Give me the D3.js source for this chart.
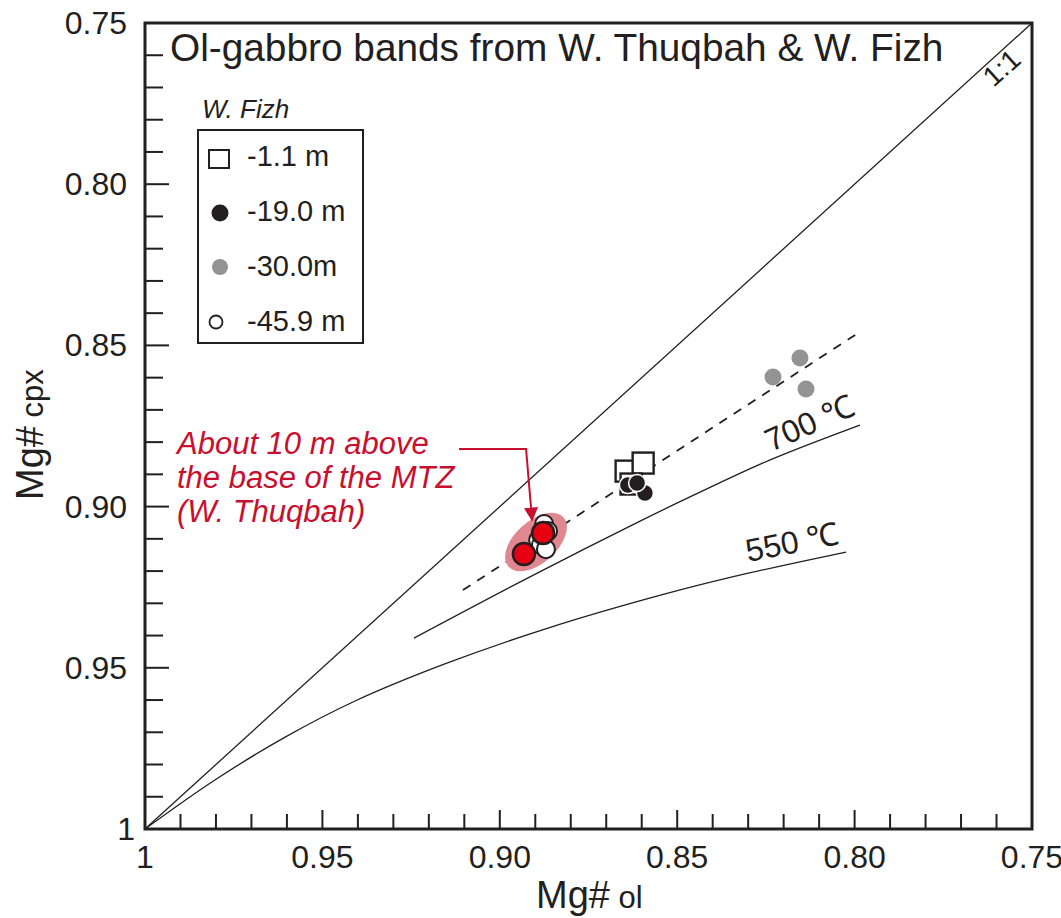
<!DOCTYPE html>
<meta charset="utf-8">
<script src="https://cdn.jsdelivr.net/npm/d3@7"></script>
<style>
  body { margin: 0; background: #fff; }
  text { font-family: "Liberation Sans", Arial, sans-serif; fill: #231f20; }
</style>
<svg width="1061" height="918"></svg>
<script>
// ticks
var majorTicks = [1, 0.95, 0.90, 0.85, 0.80, 0.75];
var xTickLabels = ["1", "0.95", "0.90", "0.85", "0.80", "0.75"];
var yTickLabels = ["1", "0.95", "0.90", "0.85", "0.80", "0.75"];
var minorTicks = d3.range(0, 26).map(function(i) { return +(0.75 + i * 0.01).toFixed(2); });

// reference lines (Mg# ol, Mg# cpx)
var oneToOne = [[1, 1], [0.75, 0.75]];
var trendDashed = [[0.9104, 0.9259], [0.7985, 0.8458]];
var curve700 = [[0.9242, 0.9408], [0.8915, 0.9218], [0.8599, 0.9042], [0.8464, 0.8970], [0.8238, 0.8855], [0.7985, 0.8747]];
var curve550 = [[1, 1], [0.9803, 0.9848], [0.9605, 0.9715], [0.9408, 0.9603], [0.9155, 0.9488],
  [0.8873, 0.9380], [0.8534, 0.9271], [0.8309, 0.9209], [0.8024, 0.9141]];

// W. Fizh samples
var fizh_1_1 = [[0.8644, 0.8890], [0.8596, 0.8865], [0.8630, 0.8930]];
var fizh_19_0 = [[0.8639, 0.8933], [0.8591, 0.8958], [0.8613, 0.8927]];
var fizh_30_0 = [[0.8230, 0.8598], [0.8154, 0.8539], [0.8137, 0.8635]];
var fizh_45_9 = [[0.8875, 0.9054], [0.8864, 0.9076], [0.8892, 0.9104], [0.8884, 0.9119], [0.8870, 0.9132]];
// W. Thuqbah (about 10 m above MTZ base)
var thuqbah = [[0.8932, 0.9147], [0.8878, 0.9082]];
var thuqbahZone = [0.8898, 0.9110];
var arrowPath = [[0.9115, 0.8821], [0.8926, 0.8821], [0.8909, 0.9042]];

var legendLabels = ["-1.1 m", "-19.0 m", "-30.0m", "-45.9 m"];
var noteLines = ["About 10 m above", "the base of the MTZ", "(W. Thuqbah)"];

var ink = "#231f20", red = "#e60012", noteRed = "#c8102e";

var svg = d3.select("svg");
var pLeft = 145, pRight = 1032, pTop = 23, pBottom = 829;

var x = d3.scaleLinear().domain([1, 0.75]).range([pLeft, pRight]);
var y = d3.scaleLinear().domain([0.75, 1]).range([pTop, pBottom]);

var line = d3.line().x(function(d) { return x(d[0]); }).y(function(d) { return y(d[1]); });

// curves
svg.append("path").attr("d", line(oneToOne)).attr("fill", "none").attr("stroke", ink).attr("stroke-width", 1.3);
line.curve(d3.curveCatmullRom.alpha(0.5));
svg.append("path").attr("d", line(curve550)).attr("fill", "none").attr("stroke", ink).attr("stroke-width", 1.3);
svg.append("path").attr("d", line(curve700)).attr("fill", "none").attr("stroke", ink).attr("stroke-width", 1.3);
line.curve(d3.curveLinear);
svg.append("path").attr("d", line(trendDashed)).attr("fill", "none").attr("stroke", ink)
  .attr("stroke-width", 1.8).attr("stroke-dasharray", "9,8");

// curve labels
svg.append("text").attr("transform", "translate(771,452) rotate(-24)").attr("font-size", 32).text("700 \u2103");
svg.append("text").attr("transform", "translate(748,562) rotate(-11)").attr("font-size", 32).text("550 \u2103");
svg.append("text").attr("transform", "translate(1008,75) rotate(-42)").attr("font-size", 28)
  .attr("text-anchor", "middle").text("1:1");

// Thuqbah zone
svg.append("ellipse")
  .attr("transform", "translate(" + x(thuqbahZone[0]) + "," + y(thuqbahZone[1]) + ") rotate(-42)")
  .attr("rx", 37).attr("ry", 21).attr("fill", "#e0878f");

// squares
svg.append("g").selectAll("rect").data(fizh_1_1).enter().append("rect")
  .attr("x", function(d) { return x(d[0]) - 10.5; })
  .attr("y", function(d) { return y(d[1]) - 10.5; })
  .attr("width", 21).attr("height", 21)
  .attr("fill", "#fff").attr("stroke", ink).attr("stroke-width", 2.4);

function dots(data, r, fill, stroke, sw) {
  svg.append("g").selectAll("circle").data(data).enter().append("circle")
    .attr("cx", function(d) { return x(d[0]); })
    .attr("cy", function(d) { return y(d[1]); })
    .attr("r", r).attr("fill", fill).attr("stroke", stroke).attr("stroke-width", sw);
}
dots(fizh_19_0, 8.5, ink, "#fff", 1.5);
dots(fizh_30_0, 8.5, "#939393", "none", 0);
dots(fizh_45_9, 9, "#fff", ink, 2);
dots(thuqbah, 11, red, ink, 2.5);

// annotation arrow + text
svg.append("defs").append("marker").attr("id", "ah")
  .attr("viewBox", "0 0 10 10").attr("refX", 9).attr("refY", 5)
  .attr("markerWidth", 7).attr("markerHeight", 7).attr("markerUnits", "strokeWidth")
  .attr("orient", "auto")
  .append("path").attr("d", "M0,0L10,5L0,10Z").attr("fill", noteRed);
svg.append("path").attr("d", line(arrowPath)).attr("fill", "none").attr("stroke", noteRed)
  .attr("stroke-width", 2).attr("marker-end", "url(#ah)");
svg.append("g").selectAll("text").data(noteLines).enter().append("text")
  .attr("x", 177).attr("y", function(d, i) { return 454 + i * 34; })
  .attr("font-size", 31).attr("font-style", "italic").style("fill", noteRed)
  .text(function(d) { return d; });

// axes frame
svg.append("rect").attr("x", pLeft).attr("y", pTop).attr("width", pRight - pLeft).attr("height", pBottom - pTop)
  .attr("fill", "none").attr("stroke", ink).attr("stroke-width", 3);

// ticks
var tg = svg.append("g").attr("stroke", ink).attr("stroke-width", 2);
minorTicks.forEach(function(v) {
  var major = majorTicks.indexOf(v) >= 0;
  if (v > 0.75 && v < 1) {
    tg.append("line").attr("x1", pLeft).attr("x2", pLeft + (major ? 24 : 18)).attr("y1", y(v)).attr("y2", y(v));
    tg.append("line").attr("y1", pBottom).attr("y2", pBottom - (major ? 19 : 15)).attr("x1", x(v)).attr("x2", x(v));
  }
});

// tick labels
svg.append("g").selectAll("text").data(majorTicks).enter().append("text")
  .attr("x", function(d) { return x(d); }).attr("y", 868)
  .attr("text-anchor", "middle").attr("font-size", 32)
  .text(function(d, i) { return xTickLabels[i]; });
svg.append("g").selectAll("text").data(majorTicks).enter().append("text")
  .attr("x", function(d) { return d === 1 ? 135 : 127; }).attr("y", function(d) { return y(d) + 11; })
  .attr("text-anchor", "end").attr("font-size", 32)
  .text(function(d, i) { return yTickLabels[i]; });

// axis titles
var xt = svg.append("text").attr("x", 536).attr("y", 908).attr("font-size", 38);
xt.append("tspan").text("Mg#");
xt.append("tspan").attr("font-size", 31).text(" ol");
var yt = svg.append("text").attr("transform", "translate(43,500) rotate(-90)").attr("font-size", 38);
yt.append("tspan").text("Mg#");
yt.append("tspan").attr("font-size", 31).text(" cpx");

// title
svg.append("text").attr("x", 170).attr("y", 61).attr("font-size", 38.8)
  .text("Ol-gabbro bands from W. Thuqbah & W. Fizh");

// legend
svg.append("text").attr("x", 202).attr("y", 118).attr("font-size", 26).attr("font-style", "italic").text("W. Fizh");
svg.append("rect").attr("x", 198).attr("y", 130).attr("width", 165).attr("height", 213)
  .attr("fill", "#fff").attr("stroke", ink).attr("stroke-width", 2);
var lg = svg.append("g");
lg.append("rect").attr("x", 209).attr("y", 150).attr("width", 20).attr("height", 18)
  .attr("fill", "#fff").attr("stroke", ink).attr("stroke-width", 2);
lg.append("circle").attr("cx", 220).attr("cy", 213).attr("r", 8.5).attr("fill", ink);
lg.append("circle").attr("cx", 220).attr("cy", 267).attr("r", 8).attr("fill", "#939393");
lg.append("circle").attr("cx", 216).attr("cy", 322).attr("r", 6.5).attr("fill", "#fff").attr("stroke", ink).attr("stroke-width", 1.8);
lg.selectAll("text").data(legendLabels).enter().append("text")
  .attr("x", 247).attr("y", function(d, i) { return 166 + i * 55; })
  .attr("font-size", 29).text(function(d) { return d; });
</script>
